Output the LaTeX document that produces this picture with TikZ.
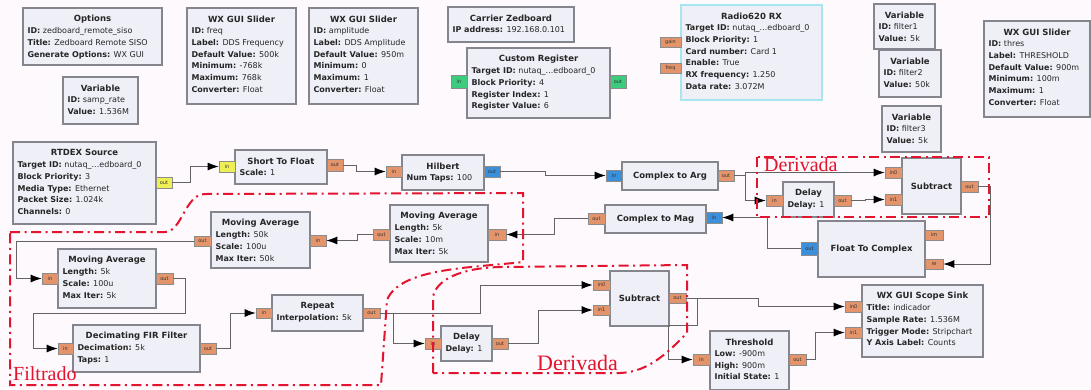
\documentclass[tikz,border=0pt]{standalone}
\usepackage{fontspec}
\setmainfont{DejaVu Sans}
\newfontfamily\annfont{Liberation Serif}
\usetikzlibrary{arrows.meta}

\definecolor{bgc}{HTML}{FDF9FC}
\definecolor{blkfill}{HTML}{EFEFF8}
\definecolor{blkline}{HTML}{85858E}
\definecolor{radioline}{HTML}{A6E6EE}
\definecolor{portor}{HTML}{E3946A}
\definecolor{portbl}{HTML}{3C8FD9}
\definecolor{portye}{HTML}{EEEE55}
\definecolor{portgr}{HTML}{3DCB7D}
\definecolor{annred}{HTML}{E2142E}
\definecolor{wirec}{HTML}{646464}

\tikzset{
  blkbox/.style={draw=blkline, fill=blkfill, line width=1.3pt, inner sep=0pt},
  ttl/.style={font=\fontsize{8.5}{10}\selectfont\bfseries, inner sep=0pt, text=black!85},
  prm/.style={font=\fontsize{8}{11.7}\selectfont, align=left, inner sep=0pt, text=black!85},
  portbox/.style={draw=black!45, line width=0.6pt, inner sep=0pt,
    font=\fontsize{5}{5}\selectfont, text=black!80},
  wire/.style={draw=wirec, line width=0.9pt, -{Latex[length=11pt,width=8pt,color=black]}},
  ann/.style={draw=annred, line width=2pt, dash pattern=on 10pt off 4.5pt on 2pt off 4.5pt},
  anntxt/.style={text=annred, inner sep=0pt},
}

% block: [extra style]{name}{x1}{y1}{x2}{y2}
\newcommand\grblk[6][]{\node[blkbox,#1,minimum width=#5pt-#3pt,minimum height=#6pt-#4pt] (#2) at ({(#3+#5)/2},{(#4+#6)/2}) {};}
% port: [fill]{name}{x1}{y1}{x2}{y2}{label}
\newcommand\grport[7][portor]{\node[portbox,fill=#1,minimum width=#5pt-#3pt,minimum height=#6pt-#4pt] (#2) at ({(#3+#5)/2},{(#4+#6)/2}) {#7};}
\newcommand\grttl[2]{\node[ttl] (#1-t) at ([yshift=-11.5pt]#1.north) {#2};}
\newcommand\grmid[2]{\node[ttl] (#1-t) at (#1.center) {#2};}
\newcommand\grprm[2]{\node[prm,anchor=north west] (#1-p) at ([xshift=5pt,yshift=-20pt]#1.north west) {#2};}
\newcommand\kv[2]{\textbf{#1:} #2}

\begin{document}
\begin{tikzpicture}[x=1pt,y=-1pt]
\fill[bgc] (0,0) rectangle (1091,389);
\useasboundingbox (0,0) rectangle (1091,389);

% ---- parameter blocks along the top
\grblk{opt}{23}{8}{162}{65}
\grttl{opt}{Options}
\grprm{opt}{\kv{ID}{zedboard\_remote\_siso}\\\kv{Title}{Zedboard Remote SISO}\\\kv{Generate Options}{WX GUI}}

\grblk{sr}{63}{77}{138}{124}
\grttl{sr}{Variable}
\grprm{sr}{\kv{ID}{samp\_rate}\\\kv{Value}{1.536M}}

\grblk{sl1}{187}{8}{296}{104}
\grttl{sl1}{WX GUI Slider}
\grprm{sl1}{\kv{ID}{freq}\\\kv{Label}{DDS Frequency}\\\kv{Default Value}{500k}\\\kv{Minimum}{-768k}\\\kv{Maximum}{768k}\\\kv{Converter}{Float}}

\grblk{sl2}{309}{8}{418}{104}
\grttl{sl2}{WX GUI Slider}
\grprm{sl2}{\kv{ID}{amplitude}\\\kv{Label}{DDS Amplitude}\\\kv{Default Value}{950m}\\\kv{Minimum}{0}\\\kv{Maximum}{1}\\\kv{Converter}{Float}}

\grblk{cz}{448}{7}{574}{42}
\grttl{cz}{Carrier Zedboard}
\grprm{cz}{\kv{IP address}{192.168.0.101}}

\grblk{creg}{467}{48}{610}{118}
\grttl{creg}{Custom Register}
\grprm{creg}{\kv{Target ID}{nutaq\_...edboard\_0}\\\kv{Block Priority}{4}\\\kv{Register Index}{1}\\\kv{Register Value}{6}}
\grport[portgr]{cregi}{451}{75}{467}{88}{in}
\grport[portgr]{crego}{610}{75}{626}{88}{out}

\grblk[draw=radioline]{rx}{681}{5}{822}{100}
\grttl{rx}{Radio620 RX}
\grprm{rx}{\kv{Target ID}{nutaq\_...edboard\_0}\\\kv{Block Priority}{1}\\\kv{Card number}{Card 1}\\\kv{Enable}{True}\\\kv{RX frequency}{1.250}\\\kv{Data rate}{3.072M}}
\grport{rxg}{660}{37}{681}{47}{gain}
\grport{rxf}{660}{63}{681}{73}{freq}

\grblk{fa}{874}{4}{935}{49}
\grttl{fa}{Variable}
\grprm{fa}{\kv{ID}{filter1}\\\kv{Value}{5k}}

\grblk{fb}{879}{50}{941}{97}
\grttl{fb}{Variable}
\grprm{fb}{\kv{ID}{filter2}\\\kv{Value}{50k}}

\grblk{fc}{882}{106}{941}{152}
\grttl{fc}{Variable}
\grprm{fc}{\kv{ID}{filter3}\\\kv{Value}{5k}}

\grblk{sl3}{984}{21}{1090}{117}
\grttl{sl3}{WX GUI Slider}
\grprm{sl3}{\kv{ID}{thres}\\\kv{Label}{THRESHOLD}\\\kv{Default Value}{900m}\\\kv{Minimum}{100m}\\\kv{Maximum}{1}\\\kv{Converter}{Float}}

% ---- signal chain
\grblk{rtd}{13}{142}{156}{224}
\grttl{rtd}{RTDEX Source}
\grprm{rtd}{\kv{Target ID}{nutaq\_...edboard\_0}\\\kv{Block Priority}{3}\\\kv{Media Type}{Ethernet}\\\kv{Packet Size}{1.024k}\\\kv{Channels}{0}}
\grport[portye]{rtdo}{156}{177}{172}{188}{out}

\grblk{stf}{235}{150}{327}{184}
\grttl{stf}{Short To Float}
\grprm{stf}{\kv{Scale}{1}}
\grport[portye]{stfi}{219}{161}{235}{172}{in}
\grport{stfo}{327}{159}{343}{171}{out}

\grblk{hil}{402}{155}{484}{190}
\grttl{hil}{Hilbert}
\grprm{hil}{\kv{Num Taps}{100}}
\grport{hili}{386}{166}{402}{177}{in}
\grport[portbl]{hilo}{484}{166}{500}{177}{out}

\grblk{cta}{622}{162}{718}{190}
\grmid{cta}{Complex to Arg}
\grport[portbl]{ctai}{606}{170}{622}{181}{in}
\grport{ctao}{718}{170}{734}{181}{out}

\grblk{ctm}{605}{205}{706}{233}
\grmid{ctm}{Complex to Mag}
\grport[portbl]{ctmi}{706}{212}{722}{223}{in}
\grport{ctmo}{588}{213}{605}{224}{out}

\grblk{dla}{783}{182}{834}{217}
\grttl{dla}{Delay}
\grprm{dla}{\kv{Delay}{1}}
\grport{dlai}{766}{195}{783}{206}{in}
\grport{dlao}{834}{195}{851}{206}{out}

\grblk{sba}{902}{158}{961}{214}
\grmid{sba}{Subtract}
\grport{sbai0}{885}{167}{902}{178}{in0}
\grport{sbai1}{885}{194}{902}{205}{in1}
\grport{sbao}{961}{181}{978}{192}{out}

\grblk{ftc}{818}{221}{925}{277}
\grmid{ftc}{Float To Complex}
\grport[portbl]{ftco}{801}{242}{818}{255}{out}
\grport{ftcim}{925}{230}{943}{240}{im}
\grport{ftcre}{925}{259}{943}{269}{re}

\grblk{maa}{390}{205}{488}{262}
\grttl{maa}{Moving Average}
\grprm{maa}{\kv{Length}{5k}\\\kv{Scale}{10m}\\\kv{Max Iter}{5k}}
\grport{maai}{488}{229}{506}{240}{in}
\grport{maao}{373}{229}{390}{240}{out}

\grblk{mab}{211}{212}{310}{268}
\grttl{mab}{Moving Average}
\grprm{mab}{\kv{Length}{50k}\\\kv{Scale}{100u}\\\kv{Max Iter}{50k}}
\grport{mabi}{310}{235}{326}{246}{in}
\grport{mabo}{194}{236}{211}{246}{out}

\grblk{mac}{58}{249}{156}{308}
\grttl{mac}{Moving Average}
\grprm{mac}{\kv{Length}{5k}\\\kv{Scale}{100u}\\\kv{Max Iter}{5k}}
\grport{maci}{42}{273}{58}{284}{in}
\grport{maco}{156}{273}{173}{284}{out}

\grblk{fir}{73}{325}{200}{372}
\grttl{fir}{Decimating FIR Filter}
\grprm{fir}{\kv{Decimation}{5k}\\\kv{Taps}{1}}
\grport{firi}{58}{343}{73}{354}{in}
\grport{firo}{200}{343}{216}{354}{out}

\grblk{rep}{272}{295}{363}{331}
\grttl{rep}{Repeat}
\grprm{rep}{\kv{Interpolation}{5k}}
\grport{repi}{256}{308}{272}{318}{in}
\grport{repo}{363}{308}{380}{318}{out}

\grblk{dlb}{441}{326}{492}{361}
\grttl{dlb}{Delay}
\grprm{dlb}{\kv{Delay}{1}}
\grport{dlbi}{425}{338}{441}{349}{in}
\grport{dlbo}{492}{338}{508}{349}{out}

\grblk{sbb}{610}{271}{669}{326}
\grmid{sbb}{Subtract}
\grport{sbbi0}{593}{280}{610}{290}{in0}
\grport{sbbi1}{593}{305}{610}{315}{in1}
\grport{sbbo}{669}{293}{686}{303}{out}

\grblk{thr}{710}{331}{789}{390}
\grttl{thr}{Threshold}
\grprm{thr}{\kv{Low}{-900m}\\\kv{High}{900m}\\\kv{Initial State}{1}}
\grport{thri}{693}{354}{710}{365}{in}
\grport{thro}{789}{354}{806}{365}{out}

\grblk{scp}{862}{285}{983}{357}
\grttl{scp}{WX GUI Scope Sink}
\grprm{scp}{\kv{Title}{indicador}\\\kv{Sample Rate}{1.536M}\\\kv{Trigger Mode}{Stripchart}\\\kv{Y Axis Label}{Counts}}
\grport{scpi0}{845}{301}{862}{312}{in0}
\grport{scpi1}{845}{327}{862}{338}{in1}

% ---- connections
\draw[wire] (rtdo.east) -- ++(18,0) |- (stfi.west);
\draw[wire] (stfo.east) -- ++(13,0) |- (hili.west);
\draw[wire] (hilo.east) -- ++(45,0) |- (ctai.west);
\draw[wire] (ctao.east) -- ++(11,0) |- (sbai0.west);
\draw[wire] (ctao.east) -- ++(11,0) |- (dlai.west);
\draw[wire] (dlao.east) -- ++(14,0) |- (sbai1.west);
\draw[wire] (sbao.east) -- ++(12,0) |- (ftcre.east);
\draw[wire] (ftco.west) -- ++(-33,0) |- (ctmi.east);
\draw[wire] (ctmo.west) -- ++(-33,0) |- (maai.east);
\draw[wire] (maao.west) -- ++(-15,0) |- (mabi.east);
\draw[wire] (mabo.west) -- ++(-177,0) |- (maci.west);
\draw[wire] (maco.east) -- ++(12,0) -- ++(0,34.5) -- ++(-152,0) |- (firi.west);
\draw[wire] (firo.east) -- ++(14,0) |- (repi.west);
\draw[wire] (repo.east) -- ++(100,0) |- (sbbi0.west);
\draw[wire] (repo.east) -- ++(13,0) |- (dlbi.west);
\draw[wire] (dlbo.east) -- ++(30,0) |- (sbbi1.west);
\draw[wire] (sbbo.east) -- ++(72,0) |- (scpi0.west);
\draw[wire] (sbbo.east) -- ++(11,0) -- ++(0,27) -- ++(-29,0) |- (thri.west);
\draw[wire] (thro.east) -- ++(9,0) |- (scpi1.west);

% ---- hand-drawn annotations
\draw[ann] (757,157) rectangle (989,217);
\node[anntxt, anchor=base west, font=\annfont\fontsize{20}{20}\selectfont] (lbdera) at (764,171) {Derivada};

\draw[ann] (10,232) -- (165,232) .. controls (182,232) and (185,194) .. (205,194)
  -- (523,193) -- (523,262) .. controls (470,268) and (400,268) .. (387,300)
  -- (381,385) -- (10,385) -- cycle;
\node[anntxt, anchor=base west, font=\annfont\fontsize{20}{20}\selectfont] (lbfil) at (13,380) {Filtrado};

\draw[ann] (433,373) -- (433,297) .. controls (436,280) and (460,268) .. (500,267)
  -- (687,265) -- (687,333) .. controls (670,350) and (650,372) .. (620,373) -- cycle;
\node[anntxt, anchor=base west, font=\annfont\fontsize{22}{22}\selectfont] (lbderb) at (537,370) {Derivada};
\end{tikzpicture}
\end{document}
